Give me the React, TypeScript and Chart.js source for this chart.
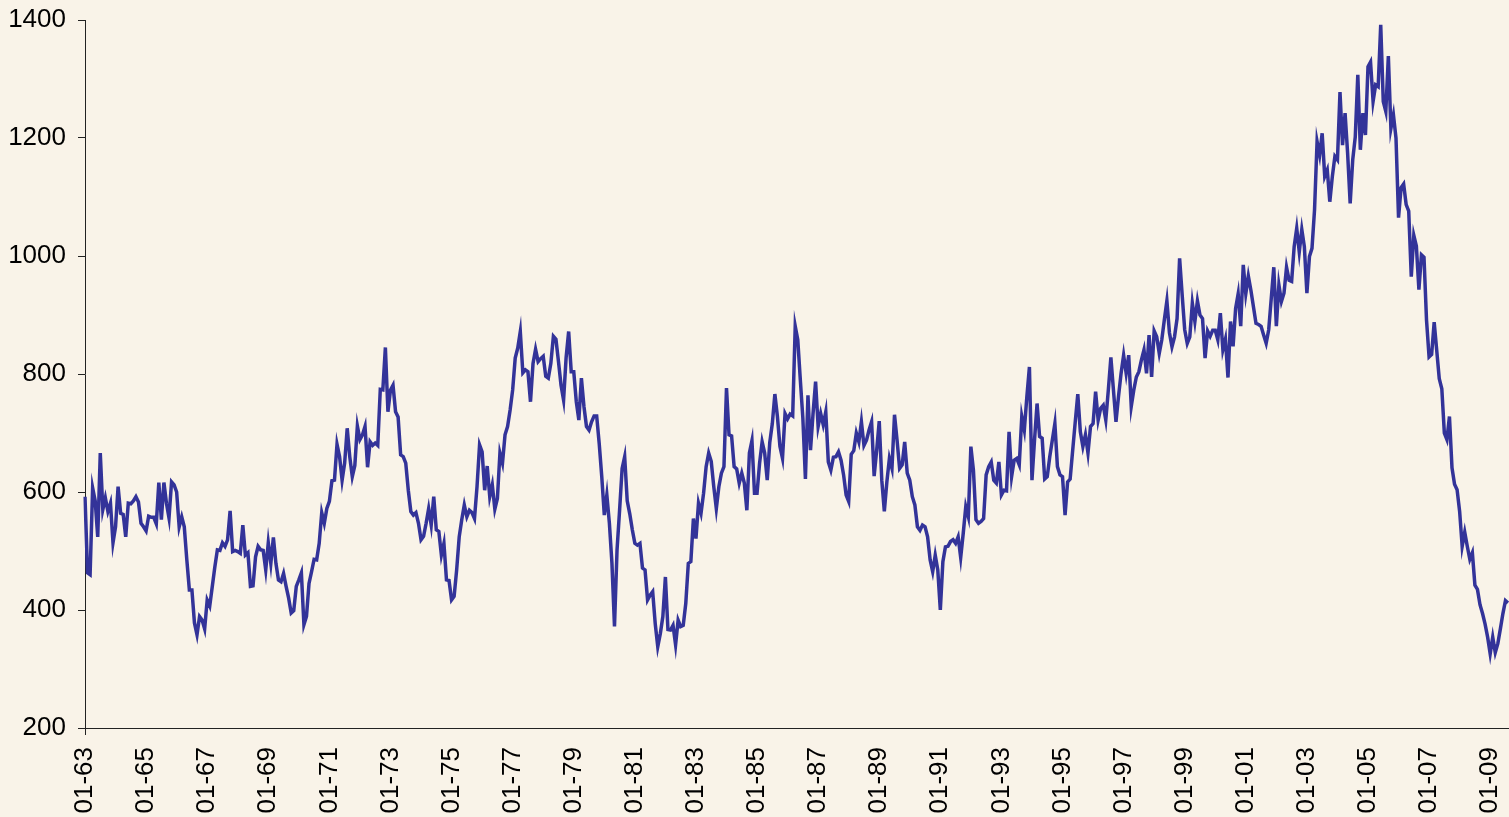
import React, { useEffect, useRef } from "react";
import { Chart, registerables } from "chart.js";

Chart.register(...registerables);

// Monthly values, Jan 1963 – Aug 2009
const values1960s = [
  592, 463, 460, 607, 585, 524, 666, 570, 590, 567, 581, 514,
  541, 609, 564, 562, 524, 581, 580, 585, 592, 583, 547, 541,
  534, 559, 557, 557, 546, 616, 553, 616, 581, 556, 617, 612,
  600, 541, 558, 541, 485, 434, 434, 378, 358, 389, 383, 368,
  417, 407, 440, 473, 502, 501, 514, 508, 519, 568, 499, 501,
  499, 496, 544, 493, 497, 440, 441, 490, 508, 502, 501, 468,
  514, 479, 523, 479, 451, 448, 462, 440, 420, 395, 399, 440,
];
const values1970s = [
  451, 463, 375, 389, 445, 465, 486, 485, 513, 565, 547, 572,
  584, 619, 620, 681, 660, 620, 649, 708, 660, 626, 645, 712,
  689, 697, 711, 642, 685, 679, 683, 679, 774, 773, 845, 736,
  773, 781, 736, 727, 663, 660, 649, 603, 567, 561, 565, 547,
  519, 525, 547, 572, 544, 592, 536, 533, 493, 513, 451, 450,
  417, 423, 468, 524, 553, 578, 558, 569, 565, 555, 609, 680,
  668, 603, 644, 592, 612, 571, 589, 666, 649, 697, 711, 739,
  773, 827, 844, 872, 802, 807, 804, 753, 818, 842, 821, 826,
  830, 796, 793, 818, 864, 859, 821, 781, 756, 828, 872, 804,
  804, 753, 722, 793, 745, 711, 705, 719, 729, 729, 682, 626,
];
const values1980s = [
  561, 595, 547, 479, 372, 502, 569, 640, 660, 585, 563, 536,
  513, 510, 513, 471, 468, 417, 425, 431, 377, 338, 360, 389,
  456, 367, 366, 374, 341, 383, 372, 374, 411, 479, 482, 555,
  521, 581, 564, 598, 643, 666, 652, 609, 572, 609, 632, 643,
  776, 697, 695, 643, 639, 615, 632, 615, 569, 666, 687, 598,
  598, 649, 685, 666, 620, 684, 716, 766, 728, 677, 657, 733,
  724, 732, 729, 881, 858, 790, 725, 622, 764, 671, 733, 787,
  711, 733, 714, 736, 651, 637, 659, 660, 668, 654, 629, 595,
  584, 664, 670, 700, 685, 719, 679, 688, 705, 719, 627, 671,
  720, 620, 567, 617, 657, 640, 731, 688, 640, 646, 685, 632,
];
const values1990s = [
  620, 592, 578, 541, 535, 544, 541, 524, 485, 465, 493, 468,
  400, 482, 507, 508, 516, 519, 513, 524, 489, 530, 575, 558,
  677, 637, 553, 547, 550, 555, 629, 643, 651, 620, 615, 651,
  595, 603, 602, 702, 626, 654, 657, 646, 728, 705, 762, 812,
  620, 688, 750, 694, 691, 622, 626, 660, 688, 716, 643, 629,
  626, 561, 617, 622, 671, 719, 766, 702, 677, 697, 666, 711,
  716, 770, 722, 742, 747, 722, 773, 828, 773, 719, 762, 801,
  832, 801, 832, 745, 773, 795, 804, 824, 841, 801, 866, 795,
  873, 863, 835, 858, 892, 924, 870, 846, 863, 894, 996, 934,
  875, 852, 863, 920, 889, 924, 900, 894, 827, 873, 864, 874,
];
const values2000s = [
  874, 858, 903, 841, 859, 794, 889, 847, 911, 936, 881, 985,
  936, 966, 942, 914, 886, 884, 881, 866, 852, 875, 928, 981,
  881, 951, 923, 937, 981, 959, 957, 1016, 1047, 1007, 1045, 1016,
  937, 999, 1013, 1078, 1194, 1171, 1208, 1135, 1146, 1092, 1135, 1169,
  1163, 1278, 1188, 1242, 1174, 1089, 1163, 1202, 1307, 1180, 1242, 1205,
  1321, 1329, 1262, 1290, 1287, 1392, 1262, 1245, 1339, 1216, 1239, 1200,
  1065, 1116, 1122, 1087, 1076, 965, 1035, 1017, 943, 1002, 998, 891,
  829, 833, 888, 840, 792, 775, 700, 689, 728, 641, 613, 604,
  567, 508, 532, 508, 486, 497, 442, 435, 409, 394, 376, 354,
  326, 354, 328, 343, 368, 394, 416, 412,
];

const START_YEAR = 1963;
const LABEL_EVERY = 24; // a label on January of every other year
const Y_MIN = 200;
const Y_MAX = 1400;
const Y_STEP = 200;

const seriesValues = [
  ...values1960s,
  ...values1970s,
  ...values1980s,
  ...values1990s,
  ...values2000s,
];

const pad2 = (n: number) => String(n).padStart(2, "0");
const monthLabels = seriesValues.map((_, i) => {
  const m = (i % 12) + 1;
  const y = (START_YEAR + Math.floor(i / 12)) % 100;
  return `${pad2(m)}-${pad2(y)}`;
});

const FONT = "'Liberation Sans', Arial, Helvetica, sans-serif";
const BG = "#F9F3E8";
const CANVAS_W = 1509;
const CANVAS_H = 817;

export default function App() {
  const canvasRef = useRef<HTMLCanvasElement | null>(null);

  useEffect(() => {
    if (!canvasRef.current) return;
    const chart = new Chart(canvasRef.current, {
      type: "line",
      data: {
        labels: monthLabels,
        datasets: [
          {
            data: seriesValues,
            borderColor: "#333399",
            borderWidth: 3.5,
            pointRadius: 0,
            tension: 0,
            fill: false,
          },
        ],
      },
      options: {
        responsive: false,
        animation: false,
        events: [],
        layout: { padding: { left: 8, top: 20, right: 1, bottom: 0 } },
        plugins: { legend: { display: false }, tooltip: { enabled: false } },
        scales: {
          x: {
            type: "category",
            border: { display: true, color: "#222", width: 1 },
            grid: {
              drawOnChartArea: false,
              drawTicks: true,
              tickLength: 7,
              tickWidth: 1,
              tickColor: (ctx: any) =>
                ctx.index % LABEL_EVERY === 0 ? "#222" : "rgba(0,0,0,0)",
            },
            ticks: {
              autoSkip: false,
              maxRotation: 90,
              minRotation: 90,
              padding: 12,
              color: "#000",
              font: { family: FONT, size: 26 },
              callback: (_v: any, i: number) =>
                i % LABEL_EVERY === 0 ? monthLabels[i] : null,
            },
            afterFit: (scale: any) => {
              scale.height = 89;
              scale.paddingLeft = 0;
              scale.paddingRight = 0;
            },
          },
          y: {
            min: Y_MIN,
            max: Y_MAX,
            border: { display: true, color: "#222", width: 1 },
            grid: {
              drawOnChartArea: false,
              drawTicks: true,
              tickLength: 7,
              tickColor: "#222",
            },
            ticks: {
              stepSize: Y_STEP,
              padding: 12,
              color: "#000",
              font: { family: FONT, size: 26 },
              callback: (v: any) => String(v),
            },
            afterFit: (scale: any) => {
              scale.width = 77;
              scale.paddingTop = 0;
              scale.paddingBottom = 0;
            },
          },
        },
      },
    });
    return () => chart.destroy();
  }, []);

  return (
    <div
      style={{
        position: "fixed",
        left: 0,
        top: 0,
        width: 1509,
        height: 817,
        background: BG,
        overflow: "hidden",
      }}
    >
      <canvas
        ref={canvasRef}
        width={CANVAS_W}
        height={CANVAS_H}
        style={{ display: "block", width: CANVAS_W, height: CANVAS_H }}
      />
    </div>
  );
}
